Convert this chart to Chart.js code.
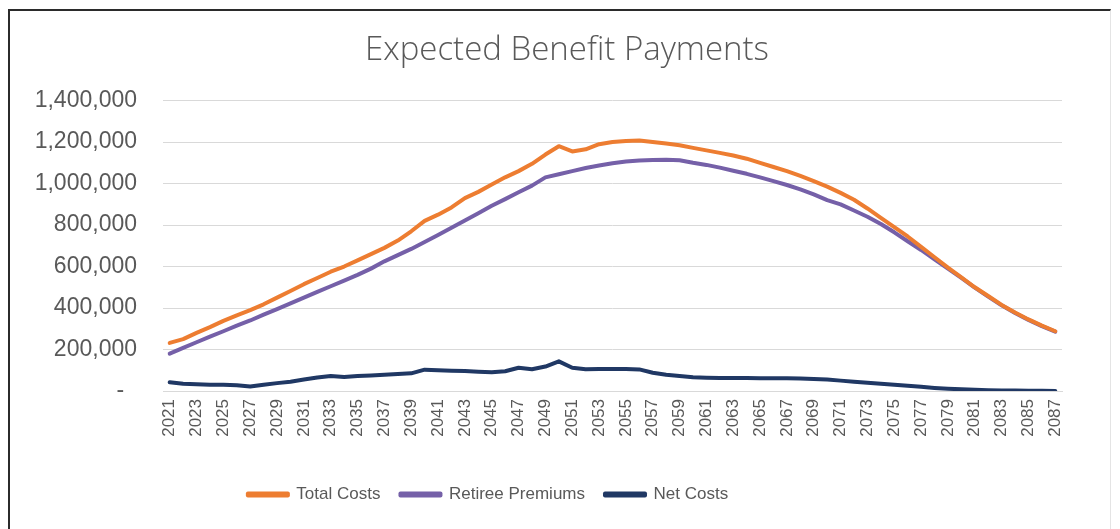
<!DOCTYPE html>
<html>
<head>
<meta charset="utf-8">
<script src="https://cdn.jsdelivr.net/npm/chart.js@4"></script>
<style>
    html, body { margin: 0; padding: 0; background: #fff; }
    #frame {
        position: absolute; left: 8px; top: 9px; width: 1100px; height: 520px;
        border-top: 2px solid #2b2b2b; border-left: 2px solid #2b2b2b; border-right: 1px solid #e4e4e4;
    }
    #wrap { position: absolute; left: 0; top: 0; width: 1100px; height: 518px; }
</style>
</head>
<body>
<div id="frame"><div id="wrap"><canvas id="benefit-chart"></canvas></div></div>
<script>
    "use strict";

    // Data
    var years = ["2021", "2022", "2023", "2024", "2025", "2026", "2027", "2028", "2029", "2030",
        "2031", "2032", "2033", "2034", "2035", "2036", "2037", "2038", "2039", "2040",
        "2041", "2042", "2043", "2044", "2045", "2046", "2047", "2048", "2049", "2050",
        "2051", "2052", "2053", "2054", "2055", "2056", "2057", "2058", "2059", "2060",
        "2061", "2062", "2063", "2064", "2065", "2066", "2067", "2068", "2069", "2070",
        "2071", "2072", "2073", "2074", "2075", "2076", "2077", "2078", "2079", "2080",
        "2081", "2082", "2083", "2084", "2085", "2086", "2087"];

    var totalCosts = [232000, 250000, 280000, 308000, 338000, 365000, 390000, 418000, 450000, 482000,
        515000, 545000, 575000, 600000, 630000, 660000, 690000, 725000, 770000, 820000,
        850000, 885000, 930000, 960000, 995000, 1030000, 1060000, 1095000, 1140000, 1180000,
        1155000, 1165000, 1190000, 1200000, 1205000, 1208000, 1200000, 1193000, 1185000, 1172000,
        1160000, 1148000, 1135000, 1120000, 1100000, 1080000, 1060000, 1037000, 1012000, 985000,
        955000, 922000, 880000, 835000, 790000, 745000, 695000, 645000, 595000, 548000,
        500000, 458000, 415000, 378000, 345000, 315000, 288000];

    var retireePremiums = [180000, 208000, 235000, 262000, 288000, 315000, 340000, 368000, 395000, 422000,
        450000, 478000, 505000, 532000, 560000, 590000, 625000, 655000, 685000, 718000,
        752000, 787000, 822000, 857000, 893000, 925000, 958000, 990000, 1030000, 1045000,
        1060000, 1075000, 1087000, 1098000, 1106000, 1111000, 1114000, 1115000, 1112000, 1100000,
        1090000, 1077000, 1062000, 1047000, 1030000, 1012000, 993000, 972000, 948000, 920000,
        900000, 870000, 840000, 805000, 765000, 722000, 680000, 635000, 590000, 545000,
        498000, 455000, 413000, 376000, 343000, 313000, 286000];

    var netCosts = [42000, 35000, 32000, 30000, 30000, 28000, 22000, 30000, 38000, 45000,
        55000, 65000, 72000, 68000, 72000, 75000, 78000, 82000, 85000, 103000,
        100000, 98000, 97000, 93000, 90000, 95000, 112000, 105000, 118000, 143000,
        112000, 105000, 106000, 106000, 106000, 104000, 88000, 78000, 72000, 66000,
        64000, 63000, 63000, 63000, 62000, 62000, 61000, 60000, 58000, 55000,
        50000, 45000, 40000, 35000, 30000, 25000, 20000, 15000, 11000, 8000,
        6000, 4000, 3000, 2000, 1000, 1000, 0];

    var yTicks = [0, 200000, 400000, 600000, 800000, 1000000, 1200000, 1400000];


    // Title and legend are not centred in the source sheet
    var nudgeBoxes = {
        id: "nudgeBoxes",
        afterLayout: function (chart) {
            chart.titleBlock.left += 62;
            chart.legend.right -= 96;
        }
    };

    function line(label, data, color) {
        return {
            label: label,
            data: data,
            borderColor: color,
            backgroundColor: color,
            borderWidth: 4,
            pointRadius: 0,
            tension: 0,
            borderJoinStyle: "round",
            borderCapStyle: "round"
        };
    }

    var ctx = document.getElementById("benefit-chart").getContext("2d");
    var chart = new Chart(ctx, {
        type: "line",
        data: {
            labels: years,
            datasets: [
                line("Total Costs", totalCosts, "#ED7D31"),
                line("Retiree Premiums", retireePremiums, "#7560A8"),
                line("Net Costs", netCosts, "#203864")
            ]
        },
        options: {
            responsive: true,
            maintainAspectRatio: false,
            animation: false,
            layout: { padding: { left: 0, right: 48, top: 10, bottom: 16 } },
            plugins: {
                title: {
                    display: true,
                    text: "Expected Benefit Payments",
                    color: "#595959",
                    font: { family: "'Open Sans'", size: 33, weight: "300" },
                    padding: { top: 10, bottom: 30 }
                },
                legend: {
                    position: "bottom",
                    labels: {
                        boxWidth: 40,
                        boxHeight: 2,
                        padding: 20,
                        color: "#595959",
                        font: { family: "'Liberation Sans'", size: 17 }
                    }
                },
                tooltip: { enabled: false }
            },
            scales: {
                x: {
                    offset: true,
                    grid: { display: false, drawTicks: false },
                    border: { color: "#D9D9D9" },
                    afterFit: function (scale) { scale.height = 75; },
                    ticks: {
                        autoSkip: false,
                        minRotation: 90,
                        maxRotation: 90,
                        padding: 8,
                        color: "#595959",
                        font: { family: "'Liberation Sans'", size: 17 },
                        callback: function (val, i) {
                            return i % 2 === 0 ? this.getLabelForValue(val) : "";
                        }
                    }
                },
                y: {
                    min: 0,
                    max: 1400000,
                    afterFit: function (scale) { scale.width = 153; },
                    afterBuildTicks: function (scale) {
                        scale.ticks = yTicks.map(function (v) { return { value: v }; });
                    },
                    grid: { color: "#D9D9D9", drawTicks: false },
                    border: { display: false },
                    ticks: {
                        padding: 26,
                        color: "#595959",
                        font: { family: "'Liberation Sans'", size: 23 },
                        callback: function (v) {
                            return v === 0 ? "-  " : v.toLocaleString("en-US");
                        }
                    }
                }
            }
        },
        plugins: [nudgeBoxes]
    });
</script>
</body>
</html>
